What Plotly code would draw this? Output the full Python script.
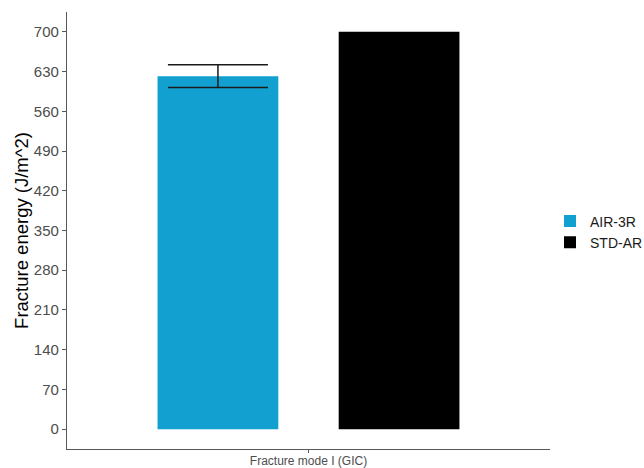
import plotly.graph_objects as go

categories = ["Fracture mode I (GIC)"]
series_names = ["AIR-3R", "STD-AR"]
air_values = [622]
air_errors = [20]
std_values = [700]
y_ticks = [0, 70, 140, 210, 280, 350, 420, 490, 560, 630, 700]

fig = go.Figure()
fig.add_trace(go.Bar(
    x=categories, y=air_values, name=series_names[0],
    marker=dict(color="#11A0D0", line=dict(width=0)),
    error_y=dict(type="data", array=air_errors, visible=True,
                 color="#1a1a1a", thickness=1.5, width=50),
))
fig.add_trace(go.Bar(
    x=categories, y=std_values, name=series_names[1],
    marker=dict(color="#000000", line=dict(width=0)),
))

fig.update_layout(
    width=644, height=468,
    margin=dict(l=67, r=94, t=12, b=19, autoexpand=False),
    plot_bgcolor="white", paper_bgcolor="white",
    barmode="group", bargap=0.1, bargroupgap=1/3,
    font=dict(family="Liberation Sans, Arial, sans-serif", color="#4d4d4d"),
    legend=dict(xref="container", yref="container",
                x=550/644, xanchor="left", y=1 - 232/468, yanchor="middle",
                font=dict(size=14, color="#1a1a1a"),
                bgcolor="rgba(0,0,0,0)", tracegroupgap=0),
    showlegend=True,
)
fig.update_xaxes(
    type="category", range=[-0.6, 0.6], automargin=False,
    showline=True, linecolor="#595959", linewidth=1.2,
    ticks="outside", ticklen=3, tickcolor="#595959",
    tickfont=dict(size=12, color="#4d4d4d"), ticklabelstandoff=-3,
    showgrid=False, zeroline=False,
)
fig.update_yaxes(
    range=[-35, 735], tickvals=y_ticks, automargin=False,
    showline=True, linecolor="#595959", linewidth=1.2,
    ticks="outside", ticklen=4, tickcolor="#595959",
    tickfont=dict(size=15, color="#4d4d4d"),
    title=dict(text="Fracture energy (J/m^2)", font=dict(size=18.5, color="#000000"), standoff=0),
    showgrid=False, zeroline=False,
)

fig.write_html("out.html", config={"displayModeBar": False},
               post_script="document.body.style.margin='0px';document.body.style.overflow='hidden';")
